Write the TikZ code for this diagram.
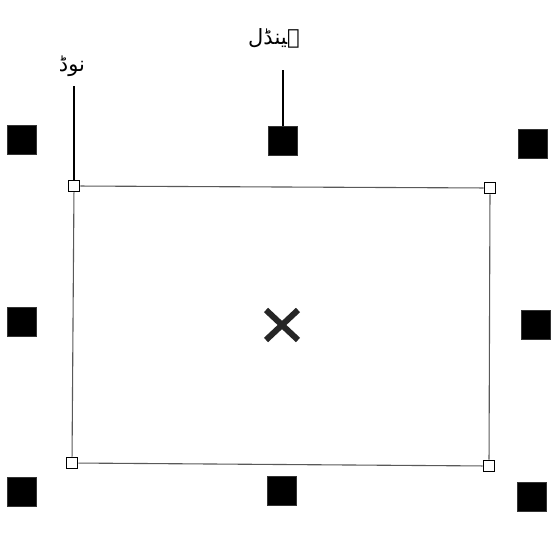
\documentclass[tikz,border=0pt]{standalone}
\usepackage{fontspec}
\usetikzlibrary{calc}
\newfontfamily\arabicfont[Script=Arabic]{DejaVu Sans}
\TeXXeTstate=1
\begin{document}
\begin{tikzpicture}[x=1pt,y=-1pt,
  handle/.style={fill=black,draw=black!80,minimum size=29pt,inner sep=0pt},
  nodept/.style={draw=black,fill=white,line width=1.8pt,minimum size=11pt,inner sep=0pt},
  edge/.style={draw=black!65,line width=1.1pt},
  leader/.style={draw=black,line width=1.3pt},
  lbl/.style={font=\arabicfont\fontsize{21}{24}\selectfont,inner sep=0pt}]
\useasboundingbox (0,0) rectangle (553,540);
% handles
\node[handle] (h1) at (22,140) {};
\node[handle] (h2) at (283,141) {};
\node[handle] (h3) at (533,144) {};
\node[handle] (h4) at (22,322) {};
\node[handle] (h6) at (536,325) {};
\node[handle] (h7) at (22,492) {};
\node[handle] (h8) at (282,491) {};
\node[handle] (h9) at (532,497) {};
% corner nodes
\node[nodept] (c1) at (74,186) {};
\node[nodept] (c2) at (490,188) {};
\node[nodept] (c3) at (72,463) {};
\node[nodept] (c4) at (489,466) {};
\draw[edge] (c1) -- (c2) -- (c4) -- (c3) -- (c1);
% centre cross
\coordinate (x0) at (282,325);
\draw[line width=6pt,black!85] ($(x0)+(-16,-15)$) -- ($(x0)+(16,15)$) ($(x0)+(16,-15)$) -- ($(x0)+(-16,15)$);
% labels
\node[lbl] (lh) at (274,38) {\beginR ہینڈل\endR};
\node[lbl] (ln) at (72,66) {\beginR نوڈ\endR};
\draw[leader] (h2.north) -- ++(0,-56);
\draw[leader] (c1.north) -- (74,86);
\end{tikzpicture}
\end{document}
